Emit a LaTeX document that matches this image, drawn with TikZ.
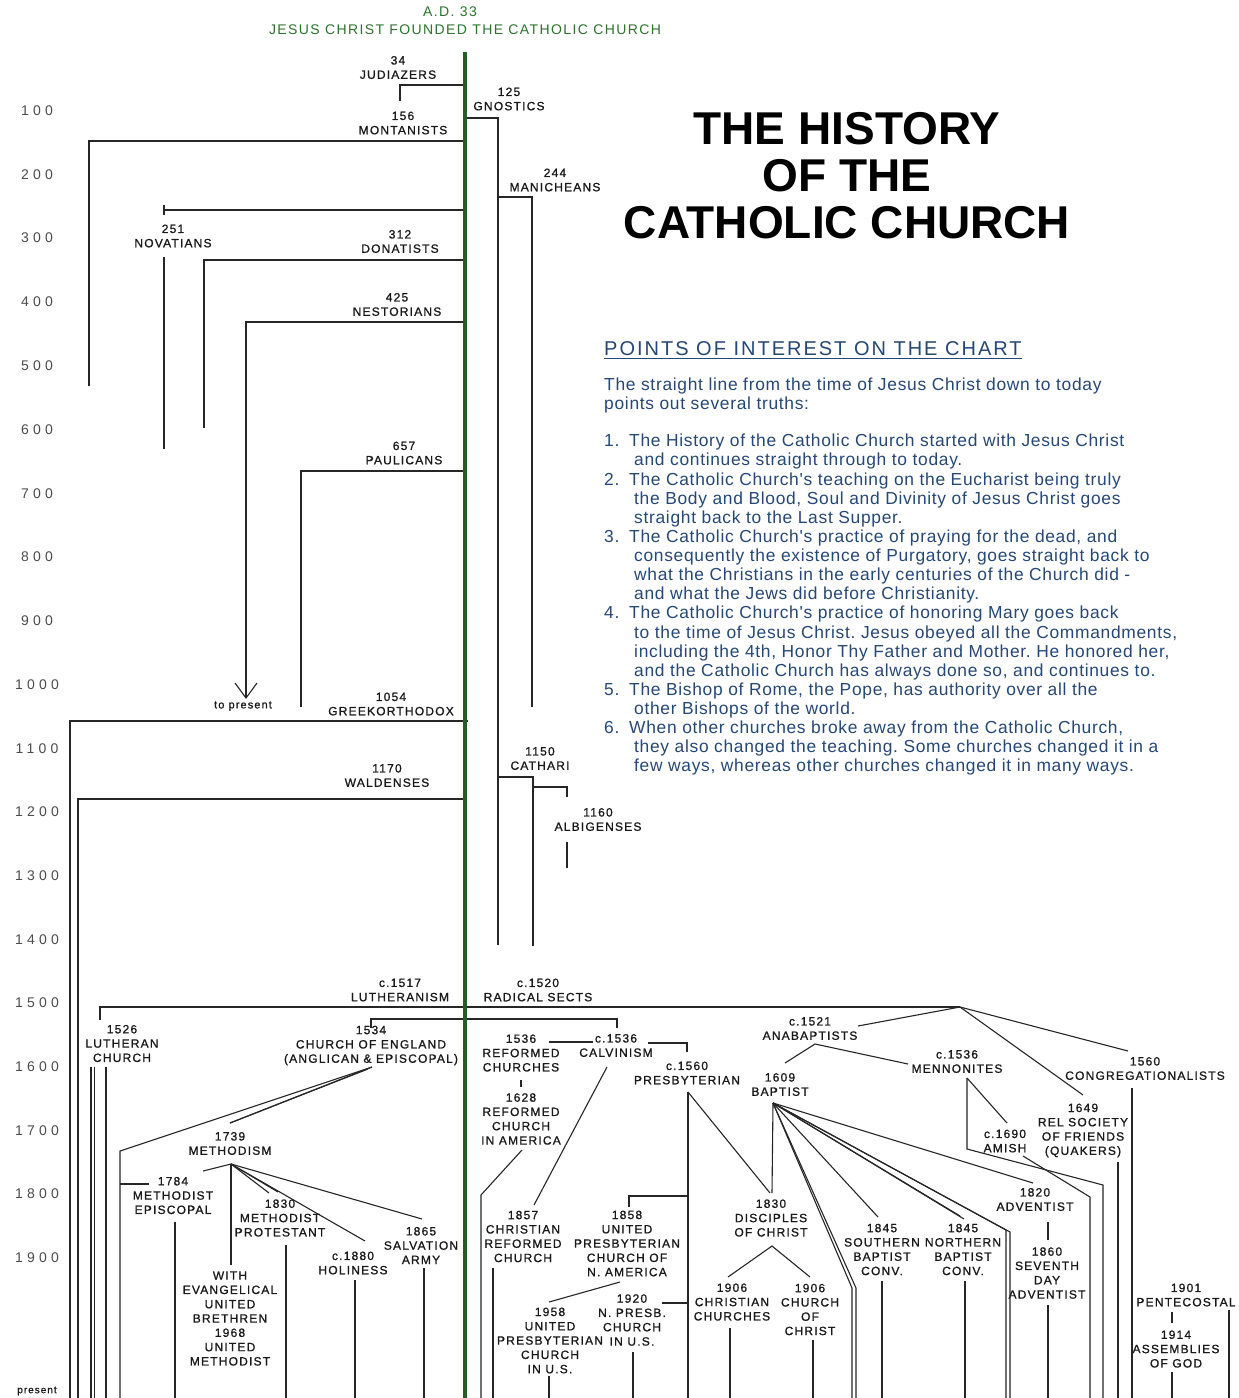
\documentclass[tikz,border=0pt]{standalone}
\usepackage{fontspec}
\setmainfont{Liberation Sans}
\newfontfamily\labf[LetterSpace=10,FakeBold=1]{Liberation Sans}
\newfontfamily\gttf[LetterSpace=10]{Liberation Sans}
\newfontfamily\yrf[LetterSpace=30]{Liberation Sans}
\newfontfamily\bodyf[LetterSpace=4]{Liberation Sans}
\newfontfamily\ttlf{Liberation Sans}
\definecolor{cgreen}{RGB}{45,115,45}
\definecolor{lgreen}{RGB}{35,95,35}
\definecolor{cblue}{RGB}{38,72,120}
\newcommand\cpt[3]{\coordinate (#1) at (#2,#3);}
\frenchspacing
\begin{document}
\begin{tikzpicture}[x=1pt,y=-1pt,
  lab/.style={font=\labf\fontsize{12}{14.3}\selectfont, align=center, inner sep=0pt, text=black!90},
  gtxt/.style={font=\gttf\fontsize{14}{16}\selectfont, inner sep=0pt, text=cgreen},
  yr/.style={font=\yrf\fontsize{14}{16}\selectfont, inner sep=0pt, text=black!70},
  ln/.style={draw=black!85, line width=1.1pt},
  gline/.style={draw=lgreen, line width=3.2pt},
  body/.style={font=\bodyf\fontsize{17.4}{19}\selectfont, text=cblue, anchor=base west, inner sep=0pt}]
\useasboundingbox (0,0) rectangle (1239,1398);
\fill[white] (0,0) rectangle (1239,1398);

% ---------- year axis ----------
\node[yr] (y100) at (37,111) {100};
\node[yr] (y200) at (37,175) {200};
\node[yr] (y300) at (37,238) {300};
\node[yr] (y400) at (37,302) {400};
\node[yr] (y500) at (37,366) {500};
\node[yr] (y600) at (37,430) {600};
\node[yr] (y700) at (37,494) {700};
\node[yr] (y800) at (37,557) {800};
\node[yr] (y900) at (37,621) {900};
\node[yr] (y1000) at (37,685) {1000};
\node[yr] (y1100) at (37,749) {1100};
\node[yr] (y1200) at (37,812) {1200};
\node[yr] (y1300) at (37,876) {1300};
\node[yr] (y1400) at (37,940) {1400};
\node[yr] (y1500) at (37,1003) {1500};
\node[yr] (y1600) at (37,1067) {1600};
\node[yr] (y1700) at (37,1131) {1700};
\node[yr] (y1800) at (37,1194) {1800};
\node[yr] (y1900) at (37,1258) {1900};
\node[lab, font=\labf\fontsize{10}{12}\selectfont] (ypres) at (37,1391) {present};

% ---------- titles ----------
\node[gtxt] (ad) at (450,12) {A.D. 33};
\node[gtxt] (jc) at (465,30) {JESUS CHRIST FOUNDED THE CATHOLIC CHURCH};
\node[font=\ttlf\bfseries\fontsize{46}{47}\selectfont, align=center, inner sep=0pt] (ttl) at (847,175.5) {THE HISTORY\\OF THE\\CATHOLIC CHURCH};

% ---------- points of interest ----------
\node[font=\gttf\fontsize{20}{22}\selectfont, text=cblue, anchor=base west, inner sep=0pt] (head) at (604,355) {POINTS OF INTEREST ON THE CHART};
\draw[cblue, line width=1pt] ([yshift=-3.5pt]head.base west) -- ([yshift=-3.5pt]head.base east);
\node[body] (b1) at (604,390) {The straight line from the time of Jesus Christ down to today};
\node[body] (b2) at (604,409) {points out several truths:};
\node[body] (n1) at (604,446) {1.};
\node[body] (b3) at (629,446) {The History of the Catholic Church started with Jesus Christ};
\node[body] (b4) at (634,465) {and continues straight through to today.};
\node[body] (n2) at (604,485) {2.};
\node[body] (b5) at (629,485) {The Catholic Church's teaching on the Eucharist being truly};
\node[body] (b6) at (634,504) {the Body and Blood, Soul and Divinity of Jesus Christ goes};
\node[body] (b7) at (634,523) {straight back to the Last Supper.};
\node[body] (n3) at (604,542) {3.};
\node[body] (b8) at (629,542) {The Catholic Church's practice of praying for the dead, and};
\node[body] (b9) at (634,561) {consequently the existence of Purgatory, goes straight back to};
\node[body] (b10) at (634,580) {what the Christians in the early centuries of the Church did -};
\node[body] (b11) at (634,599) {and what the Jews did before Christianity.};
\node[body] (n4) at (604,618) {4.};
\node[body] (b12) at (629,618) {The Catholic Church's practice of honoring Mary goes back};
\node[body] (b13) at (634,638) {to the time of Jesus Christ. Jesus obeyed all the Commandments,};
\node[body] (b14) at (634,657) {including the 4th, Honor Thy Father and Mother. He honored her,};
\node[body] (b15) at (634,676) {and the Catholic Church has always done so, and continues to.};
\node[body] (n5) at (604,695) {5.};
\node[body] (b16) at (629,695) {The Bishop of Rome, the Pope, has authority over all the};
\node[body] (b17) at (634,714) {other Bishops of the world.};
\node[body] (n6) at (604,733) {6.};
\node[body] (b18) at (629,733) {When other churches broke away from the Catholic Church,};
\node[body] (b19) at (634,752) {they also changed the teaching. Some churches changed it in a};
\node[body] (b20) at (634,771) {few ways, whereas other churches changed it in many ways.};

% ---------- labels ----------
\node[lab] (judiazers) at (398,67.5) {34\\JUDIAZERS};
\node[lab] (gnostics) at (509,99) {125\\GNOSTICS};
\node[lab] (montanists) at (403,123) {156\\MONTANISTS};
\node[lab] (manicheans) at (555,180) {244\\MANICHEANS};
\node[lab] (novatians) at (173,236) {251\\NOVATIANS};
\node[lab] (donatists) at (400,241.5) {312\\DONATISTS};
\node[lab] (nestorians) at (397,304.5) {425\\NESTORIANS};
\node[lab] (paulicans) at (404,453) {657\\PAULICANS};
\node[lab, font=\labf\fontsize{11}{13}\selectfont] (topresent) at (243,706) {to present};
\node[lab] (greek) at (391,704) {1054\\GREEKORTHODOX};
\node[lab] (waldenses) at (387,775.5) {1170\\WALDENSES};
\node[lab] (cathari) at (540,758.5) {1150\\CATHARI};
\node[lab] (albigenses) at (598,819.5) {1160\\ALBIGENSES};
\node[lab] (lutheranism) at (400,990) {c.1517\\LUTHERANISM};
\node[lab] (radical) at (538,990) {c.1520\\RADICAL SECTS};
\node[lab] (lutheranch) at (122,1043.5) {1526\\LUTHERAN\\CHURCH};
\node[lab] (coe) at (371,1045.5) {1534\\CHURCH OF ENGLAND\\(ANGLICAN \& EPISCOPAL)};
\node[lab] (refch) at (521,1053) {1536\\REFORMED\\CHURCHES};
\node[lab] (calvinism) at (616,1045.5) {c.1536\\CALVINISM};
\node[lab] (presb) at (687,1073) {c.1560\\PRESBYTERIAN};
\node[lab] (rca) at (521,1119) {1628\\REFORMED\\CHURCH\\IN AMERICA};
\node[lab] (anabap) at (810,1028.5) {c.1521\\ANABAPTISTS};
\node[lab] (menn) at (957,1061.5) {c.1536\\MENNONITES};
\node[lab] (baptist) at (780,1084.5) {1609\\BAPTIST};
\node[lab] (congreg) at (1145,1068.5) {1560\\CONGREGATIONALISTS};
\node[lab] (amish) at (1005,1141) {c.1690\\AMISH};
\node[lab] (quakers) at (1083,1130.5) {1649\\REL SOCIETY\\OF FRIENDS\\(QUAKERS)};
\node[lab] (methodism) at (230,1143.5) {1739\\METHODISM};
\node[lab] (metepis) at (173,1195.5) {1784\\METHODIST\\EPISCOPAL};
\node[lab] (metprot) at (280,1218) {1830\\METHODIST\\PROTESTANT};
\node[lab] (withev) at (230,1318.5) {WITH\\EVANGELICAL\\UNITED\\BRETHREN\\1968\\UNITED\\METHODIST};
\node[lab] (holiness) at (353,1263) {c.1880\\HOLINESS};
\node[lab] (salv) at (421,1245.5) {1865\\SALVATION\\ARMY};
\node[lab] (crc) at (523,1236.5) {1857\\CHRISTIAN\\REFORMED\\CHURCH};
\node[lab] (upcna) at (627,1243.5) {1858\\UNITED\\PRESBYTERIAN\\CHURCH OF\\N. AMERICA};
\node[lab] (upcus) at (550,1340.5) {1958\\UNITED\\PRESBYTERIAN\\CHURCH\\IN U.S.};
\node[lab] (npresb) at (632,1320) {1920\\N. PRESB.\\CHURCH\\IN U.S.};
\node[lab] (disciples) at (771,1218) {1830\\DISCIPLES\\OF CHRIST};
\node[lab] (chch) at (732,1302) {1906\\CHRISTIAN\\CHURCHES};
\node[lab] (chofch) at (810,1309.5) {1906\\CHURCH\\OF\\CHRIST};
\node[lab] (southern) at (882,1249.5) {1845\\SOUTHERN\\BAPTIST\\CONV.};
\node[lab] (northern) at (963,1249.5) {1845\\NORTHERN\\BAPTIST\\CONV.};
\node[lab] (adventist) at (1035,1199.5) {1820\\ADVENTIST};
\node[lab] (sda) at (1047,1273) {1860\\SEVENTH\\DAY\\ADVENTIST};
\node[lab] (pent) at (1186,1295) {1901\\PENTECOSTAL};
\node[lab] (aog) at (1176,1349) {1914\\ASSEMBLIES\\OF GOD};

% ---------- coordinates ----------
\cpt{g0}{465}{52}\cpt{g1}{465}{1398}
\cpt{ju1}{465}{85}\cpt{ju2}{400}{85}\cpt{ju3}{400}{101}
\cpt{gn1}{465}{118}\cpt{gn2}{498}{118}\cpt{gn3}{498}{945}
\cpt{ma1}{498}{197}\cpt{ma2}{532}{197}\cpt{ma3}{532}{707}
\cpt{ca1}{498}{777}\cpt{ca2}{533}{777}\cpt{ca3}{533}{946}
\cpt{al1}{533}{787}\cpt{al2}{567}{787}\cpt{al3}{567}{797}\cpt{al4}{567}{842}\cpt{al5}{567}{868}
\cpt{mo1}{465}{141}\cpt{mo2}{89}{141}\cpt{mo3}{89}{386}
\cpt{no1}{465}{210}\cpt{no2}{164}{210}\cpt{no3}{164}{205}\cpt{no4}{164}{215}\cpt{no5}{164}{257}\cpt{no6}{164}{449}
\cpt{do1}{465}{260}\cpt{do2}{204}{260}\cpt{do3}{204}{428}
\cpt{ne1}{465}{322}\cpt{ne2}{246}{322}\cpt{ne3}{246}{698}\cpt{ne4}{235}{683}\cpt{ne5}{257}{683}
\cpt{pa1}{465}{471}\cpt{pa2}{301}{471}\cpt{pa3}{301}{707}
\cpt{gr1}{468}{721}\cpt{gr2}{70}{721}\cpt{gr3}{70}{1398}
\cpt{wa1}{465}{799}\cpt{wa2}{78}{799}\cpt{wa3}{78}{1398}
\cpt{rad}{960}{1007}\cpt{lu1}{100}{1007}\cpt{lu2}{100}{1020}
\cpt{ce0}{371}{1028}\cpt{ce1}{371}{1019}\cpt{ce2}{617}{1019}\cpt{ce3}{617}{1028}
\cpt{lc1}{91}{1067}\cpt{lc2}{91}{1398}\cpt{lc3}{94.5}{1067}\cpt{lc4}{94.5}{1398}\cpt{lc5}{106}{1067}\cpt{lc6}{106}{1398}
\cpt{ce4}{372}{1067}\cpt{ce5}{368}{1069}\cpt{me1}{120}{1151}\cpt{me2}{120}{1398}\cpt{me3}{230}{1123}
\cpt{mh}{231}{1164}\cpt{mh1}{203}{1171}\cpt{mh2}{231}{1265}\cpt{mh3}{269}{1193}\cpt{mh3b}{278}{1192}\cpt{mh4}{365}{1241}\cpt{mh5}{422}{1219}
\cpt{ep1}{120}{1184}\cpt{ep2}{149}{1184}\cpt{ep3}{175}{1222}\cpt{ep4}{175}{1398}
\cpt{mp1}{286}{1245}\cpt{mp2}{286}{1398}
\cpt{ho1}{355}{1280}\cpt{ho2}{355}{1398}
\cpt{sa1}{424}{1268}\cpt{sa2}{424}{1398}
\cpt{rf1}{549}{1042}\cpt{rf2}{593}{1042}\cpt{cv1}{648}{1043}\cpt{cv2}{687}{1043}\cpt{cv3}{687}{1052}
\cpt{rf3}{521}{1080}\cpt{rf4}{521}{1087}
\cpt{ra1}{522}{1150}\cpt{ra2}{481}{1195}\cpt{ra3}{481}{1398}
\cpt{cv4}{607}{1067}\cpt{cv5}{534}{1205}
\cpt{cr1}{493}{1268}\cpt{cr2}{493}{1398}
\cpt{pr1}{688}{1092}\cpt{pr2}{688}{1398}\cpt{pr3}{770}{1193}
\cpt{up1}{688}{1196}\cpt{up2}{629}{1196}\cpt{up3}{629}{1207}\cpt{up4}{620}{1282}\cpt{up5}{549}{1302}
\cpt{uu1}{549}{1376}\cpt{uu2}{549}{1398}
\cpt{np1}{662}{1303}\cpt{np2}{688}{1303}\cpt{np3}{633}{1352}\cpt{np4}{633}{1398}
\cpt{bh}{773}{1103}\cpt{bh1}{772}{1193}
\cpt{di1}{772}{1246}\cpt{di2}{728}{1277}\cpt{di3}{810}{1277}
\cpt{cc1}{730}{1328}\cpt{cc2}{730}{1398}
\cpt{oc1}{813}{1340}\cpt{oc2}{813}{1398}
\cpt{rd1}{858}{1026}\cpt{rd2}{1083}{1095}\cpt{rd3}{1128}{1051}
\cpt{an}{815}{1044}\cpt{an1}{785}{1063}\cpt{an2}{908}{1064}
\cpt{co1}{1132}{1088}\cpt{co2}{1132}{1398}
\cpt{mn1}{967}{1078}\cpt{mn2}{967}{1149}\cpt{mn3}{1103}{1185}\cpt{mn4}{1103}{1398}\cpt{mn5}{1007}{1123}
\cpt{am1}{1023}{1156}\cpt{am2}{1090}{1197}\cpt{am3}{1090}{1398}
\cpt{qu1}{1118}{1162}\cpt{qu2}{1118}{1398}
\cpt{bo1}{852}{1288}\cpt{bo2}{852}{1398}\cpt{bo3}{856}{1288}\cpt{bo4}{856}{1398}
\cpt{bs}{878}{1217}\cpt{bn1}{960}{1216}\cpt{bn2}{964}{1219}
\cpt{bx1}{1006}{1230}\cpt{bx2}{1006}{1398}\cpt{bx3}{1010}{1232}\cpt{bx4}{1010}{1398}
\cpt{bad}{1033}{1183}
\cpt{so1}{882}{1281}\cpt{so2}{882}{1398}
\cpt{nn1}{965}{1281}\cpt{nn2}{965}{1398}
\cpt{ad1}{1048}{1222}\cpt{ad2}{1048}{1240}\cpt{sd1}{1048}{1305}\cpt{sd2}{1048}{1398}
\cpt{pe1}{1172}{1312}\cpt{pe2}{1172}{1323}\cpt{ag1}{1172}{1372}\cpt{ag2}{1172}{1398}\cpt{pe3}{1229}{1310}\cpt{pe4}{1229}{1398}

% ---------- connectors ----------
\draw[ln] (ju1)--(ju2)--(ju3);
\draw[ln] (gn1)--(gn2)--(gn3);
\draw[ln] (ma1)--(ma2)--(ma3);
\draw[ln] (ca1)--(ca2)--(ca3);
\draw[ln] (al1)--(al2)--(al3);
\draw[ln] (al4)--(al5);
\draw[ln] (mo1)--(mo2)--(mo3);
\draw[ln] (no1)--(no2);
\draw[ln] (no3)--(no4);
\draw[ln] (no5)--(no6);
\draw[ln] (do1)--(do2)--(do3);
\draw[ln] (ne1)--(ne2)--(ne3);
\draw[ln] (ne4)--(ne3)--(ne5);
\draw[ln] (pa1)--(pa2)--(pa3);
\draw[ln] (gr1)--(gr2)--(gr3);
\draw[ln] (wa1)--(wa2)--(wa3);
\draw[ln] (rad)--(lu1)--(lu2);
\draw[ln] (ce0)--(ce1)--(ce2)--(ce3);
\draw[ln] (lc1)--(lc2);
\draw[ln] (lc3)--(lc4);
\draw[ln] (lc5)--(lc6);
\draw[ln] (ce4)--(me1)--(me2);
\draw[ln] (ce4)--(me3);
\draw[ln] (ce5)--(me3);
\draw[ln] (mh)--(mh1);
\draw[ln] (mh)--(mh2);
\draw[ln] (mh)--(mh3);
\draw[ln] (mh)--(mh3b);
\draw[ln] (mh)--(mh4);
\draw[ln] (mh)--(mh5);
\draw[ln] (ep1)--(ep2);
\draw[ln] (ep3)--(ep4);
\draw[ln] (mp1)--(mp2);
\draw[ln] (ho1)--(ho2);
\draw[ln] (sa1)--(sa2);
\draw[ln] (rf1)--(rf2);
\draw[ln] (cv1)--(cv2)--(cv3);
\draw[ln] (rf3)--(rf4);
\draw[ln] (ra1)--(ra2)--(ra3);
\draw[ln] (cv4)--(cv5);
\draw[ln] (cr1)--(cr2);
\draw[ln] (pr1)--(pr2);
\draw[ln] (pr1)--(pr3);
\draw[ln] (up1)--(up2)--(up3);
\draw[ln] (up4)--(up5);
\draw[ln] (uu1)--(uu2);
\draw[ln] (np1)--(np2);
\draw[ln] (np3)--(np4);
\draw[ln] (bh)--(bh1);
\draw[ln] (di2)--(di1)--(di3);
\draw[ln] (cc1)--(cc2);
\draw[ln] (oc1)--(oc2);
\draw[ln] (rd1)--(rad)--(rd2);
\draw[ln] (rad)--(rd3);
\draw[ln] (an1)--(an)--(an2);
\draw[ln] (co1)--(co2);
\draw[ln] (mn1)--(mn2)--(mn3)--(mn4);
\draw[ln] (mn1)--(mn5);
\draw[ln] (am1)--(am2)--(am3);
\draw[ln] (qu1)--(qu2);
\draw[ln] (bh)--(bo1)--(bo2);
\draw[ln] (bh)--(bo3)--(bo4);
\draw[ln] (bh)--(bs);
\draw[ln] (bh)--(bn1);
\draw[ln] (bh)--(bn2);
\draw[ln] (bh)--(bx1)--(bx2);
\draw[ln] (bh)--(bx3)--(bx4);
\draw[ln] (bh)--(bad);
\draw[ln] (so1)--(so2);
\draw[ln] (nn1)--(nn2);
\draw[ln] (ad1)--(ad2);
\draw[ln] (sd1)--(sd2);
\draw[ln] (pe1)--(pe2);
\draw[ln] (ag1)--(ag2);
\draw[ln] (pe3)--(pe4);
\draw[gline] (g0)--(g1);
\end{tikzpicture}
\end{document}
